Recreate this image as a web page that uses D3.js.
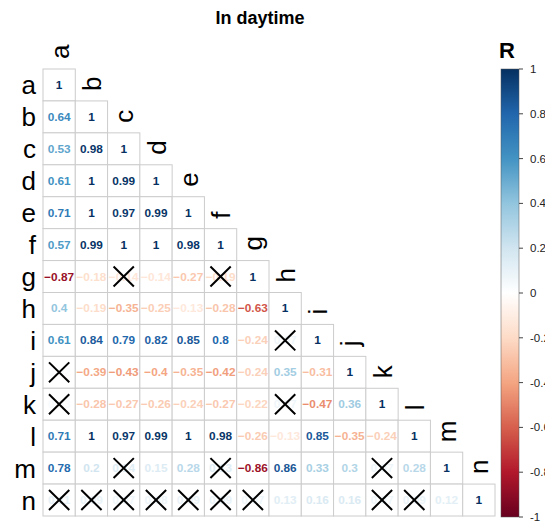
<!DOCTYPE html>
<html>
<head>
<meta charset="utf-8">
<script src="https://cdn.jsdelivr.net/npm/d3@7"></script>
<style>
  body { margin: 0; background: #fff; }
  svg { display: block; font-family: "Liberation Sans", Arial, sans-serif; }
</style>
</head>
<body>
<div id="container"></div>
<script>
// variables (rows and columns)
const labels = ["a", "b", "c", "d", "e", "f", "g", "h", "i", "j", "k", "l", "m", "n"];

// lower triangle of correlation matrix, row by row
const corrRows = [
  [1],
  [0.64, 1],
  [0.53, 0.98, 1],
  [0.61, 1, 0.99, 1],
  [0.71, 1, 0.97, 0.99, 1],
  [0.57, 0.99, 1, 1, 0.98, 1],
  [-0.87, -0.18, -0.14, -0.14, -0.27, -0.19, 1],
  [0.4, -0.19, -0.35, -0.25, -0.13, -0.28, -0.63, 1],
  [0.61, 0.84, 0.79, 0.82, 0.85, 0.8, -0.24, 0.07, 1],
  [0.02, -0.39, -0.43, -0.4, -0.35, -0.42, -0.24, 0.35, -0.31, 1],
  [0.03, -0.28, -0.27, -0.26, -0.24, -0.27, -0.22, 0.07, -0.47, 0.36, 1],
  [0.71, 1, 0.97, 0.99, 1, 0.98, -0.26, -0.13, 0.85, -0.35, -0.24, 1],
  [0.78, 0.2, 0.14, 0.15, 0.28, 0.13, -0.86, 0.86, 0.33, 0.3, 0.07, 0.28, 1],
  [0.11, 0.09, 0.07, 0.08, 0.09, 0.09, 0.07, 0.13, 0.16, 0.16, 0.07, 0.09, 0.12, 1]
];

// non-significant pairs (crossed out)
const crossed = [
  ["g", "c"], ["g", "f"], ["i", "h"], ["j", "a"], ["k", "a"], ["k", "h"],
  ["m", "c"], ["m", "f"], ["m", "k"],
  ["n", "a"], ["n", "b"], ["n", "c"], ["n", "d"], ["n", "e"], ["n", "f"], ["n", "g"],
  ["n", "k"], ["n", "l"]
];

const legendTicks = [1, 0.8, 0.6, 0.4, 0.2, 0, -0.2, -0.4, -0.6, -0.8, -1];
const rdbu = ["#67001F", "#B2182B", "#D6604D", "#F4A582", "#FDDBC7", "#FFFFFF",
              "#D1E5F0", "#92C5DE", "#4393C3", "#2166AC", "#053061"];

const width = 545, height = 522;

const svg = d3.select("#container").append("svg")
  .attr("width", width)
  .attr("height", height);

const color = d3.scaleLinear()
  .domain(d3.range(rdbu.length).map(i => -1 + i * 2 / (rdbu.length - 1)))
  .range(rdbu);

const x = d3.scaleBand().domain(labels).range([43, 495]);
const y = d3.scaleBand().domain(labels).range([69, 516]);

const crossSet = new Set(crossed.map(d => d[0] + "-" + d[1]));

const cells = [];
corrRows.forEach((row, i) => {
  row.forEach((v, j) => {
    cells.push({ r: labels[i], c: labels[j], v: v, cross: crossSet.has(labels[i] + "-" + labels[j]) });
  });
});

// title
svg.append("text")
  .attr("x", 260)
  .attr("y", 24)
  .attr("text-anchor", "middle")
  .attr("font-weight", "bold")
  .attr("font-size", 18)
  .text("In daytime");

// cells
const g = svg.append("g");
g.selectAll("rect.cell")
  .data(cells)
  .join("rect")
  .attr("class", "cell")
  .attr("x", d => x(d.c))
  .attr("y", d => y(d.r))
  .attr("width", x.bandwidth())
  .attr("height", y.bandwidth())
  .attr("fill", "white")
  .attr("stroke", "#cccccc")
  .attr("stroke-width", 1);

g.selectAll("text.num")
  .data(cells)
  .join("text")
  .attr("class", "num")
  .attr("x", d => x(d.c) + x.bandwidth() / 2)
  .attr("y", d => y(d.r) + y.bandwidth() / 2 + 4)
  .attr("text-anchor", "middle")
  .attr("font-weight", "bold")
  .attr("font-size", 11.8)
  .attr("fill", d => color(d.v))
  .text(d => d3.format("")(+d.v.toFixed(2)));

// crosses
const crossCells = cells.filter(d => d.cross);
const pad = 6;
g.selectAll("path.cross")
  .data(crossCells)
  .join("path")
  .attr("class", "cross")
  .attr("d", d => {
    const x0 = x(d.c) + pad, x1 = x(d.c) + x.bandwidth() - pad;
    const y0 = y(d.r) + pad, y1 = y(d.r) + y.bandwidth() - pad;
    return `M${x0},${y0}L${x1},${y1}M${x1},${y0}L${x0},${y1}`;
  })
  .attr("stroke", "black")
  .attr("stroke-width", 2)
  .attr("fill", "none");

// row labels
svg.selectAll("text.rowlab")
  .data(labels)
  .join("text")
  .attr("class", "rowlab")
  .attr("x", 36)
  .attr("y", d => y(d) + y.bandwidth() / 2 + 9.5)
  .attr("text-anchor", "end")
  .attr("font-size", 26)
  .text(d => d);

// column labels, rotated, sitting on top of the diagonal cell
svg.selectAll("text.collab")
  .data(labels)
  .join("text")
  .attr("class", "collab")
  .attr("transform", d => `translate(${x(d) + x.bandwidth() / 2 + 9.5},${y(d) - 10}) rotate(-90)`)
  .attr("text-anchor", "start")
  .attr("font-size", 26)
  .text(d => d);

// colour legend
const ly = d3.scaleLinear().domain([-1, 1]).range([517, 69]);
const defs = svg.append("defs");
const grad = defs.append("linearGradient")
  .attr("id", "rdbu")
  .attr("x1", 0).attr("y1", 1).attr("x2", 0).attr("y2", 0);
rdbu.forEach((c, i) => {
  grad.append("stop")
    .attr("offset", i / (rdbu.length - 1))
    .attr("stop-color", c);
});

svg.append("rect")
  .attr("x", 501)
  .attr("y", ly(1))
  .attr("width", 18)
  .attr("height", ly(-1) - ly(1))
  .attr("fill", "url(#rdbu)")
  .attr("stroke", "#555")
  .attr("stroke-width", 0.5);

const lt = svg.append("g");
lt.selectAll("line")
  .data(legendTicks)
  .join("line")
  .attr("x1", 519).attr("x2", 523)
  .attr("y1", d => ly(d)).attr("y2", d => ly(d))
  .attr("stroke", "#444");
lt.selectAll("text")
  .data(legendTicks)
  .join("text")
  .attr("x", 530)
  .attr("y", d => ly(d) + 4)
  .attr("font-size", 11.5)
  .attr("fill", "#222")
  .text(d => d);

svg.append("text")
  .attr("x", 507)
  .attr("y", 58)
  .attr("text-anchor", "middle")
  .attr("font-weight", "bold")
  .attr("font-size", 22)
  .text("R");
</script>
</body>
</html>
